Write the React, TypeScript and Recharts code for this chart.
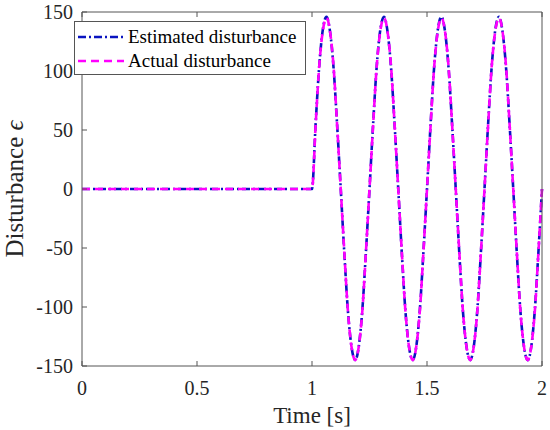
import { Legend, Line, LineChart, XAxis, YAxis } from "recharts"

// time samples [s] (flat until 1 s, then dense through the oscillation)
const times = [
  0, 1.0, 1.016, 1.031, 1.047, 1.063, 1.078, 1.094, 1.109, 1.125, 1.141, 1.156, 1.172, 1.188, 1.203, 1.219, 1.234,
  1.25, 1.266, 1.281, 1.297, 1.313, 1.328, 1.344, 1.359, 1.375, 1.391, 1.406, 1.422, 1.438, 1.453, 1.469, 1.484,
  1.5, 1.516, 1.531, 1.547, 1.563, 1.578, 1.594, 1.609, 1.625, 1.641, 1.656, 1.672, 1.688, 1.703, 1.719, 1.734,
  1.75, 1.766, 1.781, 1.797, 1.813, 1.828, 1.844, 1.859, 1.875, 1.891, 1.906, 1.922, 1.938, 1.953, 1.969, 1.984,
  2.0,
]

const estimated = [
  0, 0, 56, 103, 135, 146, 134, 102, 55, 0, -56, -103, -134, -145, -134, -102, -55,
  0, 56, 103, 135, 146, 134, 102, 55, 0, -56, -103, -134, -145, -134, -102, -55,
  0, 56, 103, 135, 146, 134, 102, 55, 0, -56, -103, -134, -145, -134, -102, -55,
  0, 56, 103, 135, 146, 134, 102, 55, 0, -56, -103, -134, -145, -134, -102, -55,
  0,
]

const actual = [
  0, 0, 55, 103, 134, 145, 134, 103, 55, 0, -55, -103, -134, -145, -134, -103, -55,
  0, 55, 103, 134, 145, 134, 103, 55, 0, -55, -103, -134, -145, -134, -103, -55,
  0, 55, 103, 134, 145, 134, 103, 55, 0, -55, -103, -134, -145, -134, -103, -55,
  0, 55, 103, 134, 145, 134, 103, 55, 0, -55, -103, -134, -145, -134, -103, -55,
  0,
]

const xTicks = [0, 0.5, 1, 1.5, 2]
const yTicks = [-150, -100, -50, 0, 50, 100, 150]
const legendOrder = ["estimated", "actual"]

const rows = times.map((t, i) => ({ t, estimated: estimated[i], actual: actual[i] }))

const SERIF = "Liberation Serif, Times New Roman, DejaVu Serif, serif"
const AXIS = "#555555"
const TEXT = "#262626"
const BLUE = "#0a14c0"
const MAGENTA = "#ff00ff"

const styles: Record<string, { color: string; dash: string }> = {
  estimated: { color: BLUE, dash: "8 3 2 3" },
  actual: { color: MAGENTA, dash: "8 5" },
}

// tick labels drawn by hand so the serif font sticks
function XTick({ x, y, payload }: any) {
  return (
    <text x={x} y={y + 14} textAnchor="middle" fontFamily={SERIF} fontSize={20} fill={TEXT}>
      {payload.value}
    </text>
  )
}

function YTick({ x, y, payload }: any) {
  return (
    <text x={x} y={y + 7} textAnchor="end" fontFamily={SERIF} fontSize={20} fill={TEXT}>
      {payload.value}
    </text>
  )
}

function renderLegend(props: any) {
  const items = [...(props.payload || [])].sort(
    (a: any, b: any) => legendOrder.indexOf(a.dataKey) - legendOrder.indexOf(b.dataKey),
  )
  return (
    <div
      style={{
        border: `1px solid ${AXIS}`,
        background: "#fff",
        padding: "3px 8px 3px 3px",
        fontFamily: SERIF,
        fontSize: 19,
        color: "#000",
        boxSizing: "border-box",
        height: 54,
      }}
    >
      {items.map((entry: any) => {
        const s = styles[entry.dataKey]
        return (
          <div key={entry.dataKey} style={{ display: "flex", alignItems: "center", height: 24 }}>
            <svg width={46} height={10} style={{ marginRight: 4 }}>
              <line x1={0} y1={5} x2={46} y2={5} stroke={s.color} strokeWidth={2.6} strokeDasharray={s.dash} />
            </svg>
            <span style={{ lineHeight: "24px" }}>{entry.value}</span>
          </div>
        )
      })}
    </div>
  )
}

export default function App() {
  return (
    <div style={{ position: "absolute", left: 0, top: 0, background: "#fff", fontFamily: SERIF }}>
      <LineChart width={550} height={430} data={rows} margin={{ top: 0, right: 0, bottom: 0, left: 0 }}>
        <XAxis
          xAxisId="bottom"
          dataKey="t"
          type="number"
          domain={[0, 2]}
          ticks={xTicks}
          height={64}
          tickSize={-5}
          tickMargin={20}
          tick={<XTick />}
          axisLine={{ stroke: AXIS }}
          tickLine={{ stroke: AXIS }}
          label={({ viewBox }: any) => (
            <text
              x={viewBox.x + viewBox.width / 2}
              y={viewBox.y + 57}
              textAnchor="middle"
              fontFamily={SERIF}
              fontSize={23}
              fill={TEXT}
            >
              Time [s]
            </text>
          )}
        />
        <XAxis
          xAxisId="top"
          orientation="top"
          dataKey="t"
          type="number"
          domain={[0, 2]}
          ticks={xTicks}
          height={12}
          tickSize={-5}
          tickFormatter={() => ""}
          axisLine={{ stroke: AXIS }}
          tickLine={{ stroke: AXIS }}
        />
        <YAxis
          yAxisId="left"
          type="number"
          domain={[-150, 150]}
          ticks={yTicks}
          width={82}
          tickSize={-5}
          tickMargin={14}
          tick={<YTick />}
          axisLine={{ stroke: AXIS }}
          tickLine={{ stroke: AXIS }}
          label={({ viewBox }: any) => {
            const cx = viewBox.x + 23
            const cy = viewBox.y + viewBox.height / 2
            return (
              <text
                x={cx}
                y={cy}
                transform={`rotate(-90 ${cx} ${cy})`}
                textAnchor="middle"
                fontFamily={SERIF}
                fontSize={25}
                fill={TEXT}
              >
                Disturbance <tspan fontStyle="italic">ϵ</tspan>
              </text>
            )
          }}
        />
        <YAxis
          yAxisId="right"
          orientation="right"
          type="number"
          domain={[-150, 150]}
          ticks={yTicks}
          width={8}
          tickSize={-5}
          tickFormatter={() => ""}
          axisLine={{ stroke: AXIS }}
          tickLine={{ stroke: AXIS }}
        />
        <Line
          xAxisId="bottom"
          yAxisId="left"
          dataKey="estimated"
          name="Estimated disturbance"
          type="monotone"
          stroke={BLUE}
          strokeWidth={2.6}
          strokeDasharray={styles.estimated.dash}
          dot={false}
          activeDot={false}
          isAnimationActive={false}
        />
        <Line
          xAxisId="bottom"
          yAxisId="left"
          dataKey="actual"
          name="Actual disturbance"
          type="monotone"
          stroke={MAGENTA}
          strokeWidth={2.6}
          strokeDasharray={styles.actual.dash}
          dot={false}
          activeDot={false}
          isAnimationActive={false}
        />
        <Legend
          layout="vertical"
          align="center"
          verticalAlign="middle"
          content={renderLegend}
          wrapperStyle={{ left: 74, top: 21, width: 232, height: 54 }}
        />
      </LineChart>
    </div>
  )
}
